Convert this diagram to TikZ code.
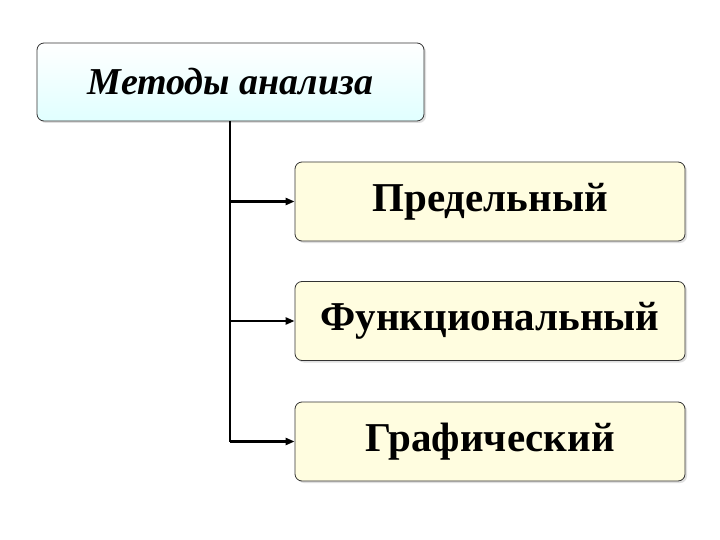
\documentclass[tikz,border=0pt]{standalone}
\usepackage{fontspec}
\setmainfont{Liberation Serif}
\usetikzlibrary{arrows.meta,shadows}
\begin{document}
\begin{tikzpicture}[x=1pt,y=-1pt,
  topbox/.style={draw=black!80,line width=0.8pt,rounded corners=7pt,top color=white,bottom color=cyan!12!white,minimum width=387pt,minimum height=78pt,font=\fontsize{38}{44}\selectfont\bfseries\itshape,drop shadow={shadow xshift=2pt,shadow yshift=-2pt,fill=black!25}},
  itembox/.style={draw=black!80,line width=0.8pt,rounded corners=7pt,fill=yellow!12!white,minimum width=390pt,minimum height=79pt,font=\fontsize{41}{48}\selectfont\bfseries,drop shadow={shadow xshift=2pt,shadow yshift=-2pt,fill=black!25}},
  conn/.style={line width=2.5pt},
  arr/.style={line width=2.5pt,-{Triangle[length=9pt,width=7pt]}}]
\useasboundingbox (0,0) rectangle (720,540);
\node[topbox] (top) at (230.5,82) {Методы анализа};
\node[itembox] (a) at (490,201.5) {Предельный};
\node[itembox] (b) at (490,321) {Функциональный};
\node[itembox] (c) at (490,441.5) {Графический};
\coordinate (s) at (230,121);
\coordinate (e) at (230,441.5);
\draw[conn] (s) -- (e);
\draw[arr] (s |- a.west) -- (a.west);
\draw[arr] (s |- b.west) -- (b.west);
\draw[arr] (e) -- (c.west);
\end{tikzpicture}
\end{document}
